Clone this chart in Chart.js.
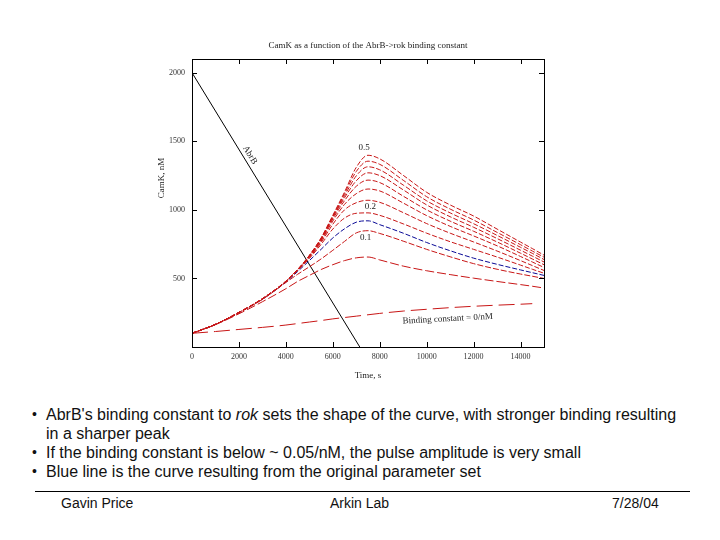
<!DOCTYPE html>
<html>
<head>
<meta charset="utf-8">
<script src="https://cdn.jsdelivr.net/npm/chart.js@4.4.1/dist/chart.umd.min.js"></script>
<style>
  html, body { margin: 0; padding: 0; background: #fff; }
  body { width: 720px; height: 540px; position: relative; overflow: hidden; font-family: "Liberation Sans", Arial, sans-serif; color: #111; }
  #chartBox { position: absolute; left: 0; top: 0; width: 720px; height: 400px; }
  .ln { position: absolute; left: 46px; font-size: 16px; line-height: 19px; white-space: nowrap; }
  .dot { position: absolute; left: -14px; font-size: 14px; }
  .rule { position: absolute; left: 35px; width: 655px; top: 491px; border-top: 1px solid #000; }
  .foot { position: absolute; top: 494px; font-size: 14px; line-height: 18px; white-space: nowrap; }
</style>
</head>
<body>
<div id="chartBox"><canvas id="camkChart" width="720" height="400"></canvas></div>

<div class="ln" style="top:405px"><span class="dot">•</span>AbrB's binding constant to <i>rok</i> sets the shape of the curve, with stronger binding resulting</div>
<div class="ln" style="top:424px">in a sharper peak</div>
<div class="ln" style="top:443px"><span class="dot">•</span>If the binding constant is below ~ 0.05/nM, the pulse amplitude is very small</div>
<div class="ln" style="top:462px"><span class="dot">•</span>Blue line is the curve resulting from the original parameter set</div>
<div class="rule"></div>
<div class="foot" style="left:61px">Gavin Price</div>
<div class="foot" style="left:330px">Arkin Lab</div>
<div class="foot" style="left:612px">7/28/04</div>

<script>
// time points (s) shared by all CamK curves
const times = [0, 1000, 2000, 3000, 4000, 4500, 5000, 5500, 6000, 6500, 7000, 7500, 8000, 9000, 10000, 11000, 12000, 13000, 14000, 14500, 15000];

// CamK (nM), one array per AbrB->rok binding constant, strongest first
const camk05 = [100, 165, 252, 352, 480, 565, 668, 795, 960, 1130, 1310, 1398, 1372, 1252, 1128, 1036, 955, 860, 765, 718, 670];
const camkB = [100, 165, 252, 352, 480, 565, 667, 793, 955, 1118, 1280, 1355, 1332, 1216, 1096, 1006, 926, 836, 746, 700, 655];
const camkC = [100, 165, 252, 352, 479, 564, 665, 790, 950, 1103, 1248, 1314, 1292, 1181, 1066, 978, 899, 814, 727, 683, 638];
const camkD = [100, 165, 252, 352, 479, 563, 663, 786, 943, 1088, 1212, 1270, 1250, 1146, 1036, 950, 873, 791, 706, 663, 620];
const camkE = [100, 165, 252, 351, 478, 562, 660, 780, 933, 1067, 1172, 1217, 1199, 1100, 1000, 918, 844, 766, 684, 642, 600];
const camkF = [100, 165, 252, 351, 478, 561, 657, 772, 918, 1040, 1118, 1152, 1138, 1050, 958, 880, 810, 738, 660, 620, 580];
const camkG = [100, 165, 252, 350, 477, 559, 652, 762, 895, 1000, 1052, 1070, 1055, 980, 900, 830, 766, 700, 630, 594, 558];
const camk02 = [100, 165, 252, 350, 476, 556, 645, 748, 860, 940, 975, 978, 960, 898, 830, 768, 712, 656, 597, 567, 538];
const camkBlue = [100, 165, 251, 349, 474, 550, 630, 712, 795, 862, 910, 920, 892, 830, 762, 702, 648, 603, 562, 542, 522];
const camk01 = [100, 164, 250, 347, 470, 530, 585, 642, 705, 770, 832, 848, 828, 772, 712, 658, 608, 567, 532, 516, 500];
const camkLow = [100, 163, 242, 330, 425, 478, 522, 565, 600, 630, 650, 656, 635, 590, 556, 528, 502, 478, 455, 443, 430];
const camk0 = [100, 113, 128, 143, 160, 171, 182, 193, 205, 215, 225, 235, 245, 262, 275, 287, 297, 305, 312, 316, null];

// AbrB, straight line
const abrbTimes = [0, 7150];
const abrbVals = [2000, 0];

const xTickVals = [0, 2000, 4000, 6000, 8000, 10000, 12000, 14000];
const xTickLabels = ['0', '2000', '4000', '6000', '8000', '10000', '12000', '14000'];
const yTickVals = [500, 1000, 1500, 2000];
const yTickLabels = ['500', '1000', '1500', '2000'];

const red = 'rgb(200,22,22)';
const serif = '"Liberation Serif", "DejaVu Serif", serif';

function pts(xs, ys) {
  return xs.map((t, i) => ({ x: t, y: ys[i] }));
}

function curve(vals, color, dash) {
  return {
    data: pts(times, vals),
    borderColor: color,
    borderWidth: 1,
    borderDash: dash,
    pointRadius: 0,
    fill: false,
    tension: 0.4,
    cubicInterpolationMode: 'monotone'
  };
}

const datasets = [
  curve(camk05, red, [5, 2]),
  curve(camkB, red, [5, 2]),
  curve(camkC, red, [5, 2]),
  curve(camkD, red, [5, 2]),
  curve(camkE, red, [5, 2]),
  curve(camkF, red, [5, 2]),
  curve(camkG, red, [5, 2]),
  curve(camk02, red, [5, 2]),
  curve(camkBlue, 'rgb(10,10,150)', [5, 2]),
  curve(camk01, red, [6, 2]),
  curve(camkLow, red, [9, 3]),
  curve(camk0, red, [16, 6]),
  {
    data: pts(abrbTimes, abrbVals),
    borderColor: '#000',
    borderWidth: 1,
    pointRadius: 0,
    fill: false
  }
];

// text placed on the plot, in data units
const notes = [
  { text: '0.5', x: 7330, y: 1455 },
  { text: '0.2', x: 7600, y: 1020 },
  { text: '0.1', x: 7400, y: 795 },
  { text: 'Binding constant = 0/nM', x: 10900, y: 205, rot: -3 }
];

// gnuplot style box: full border, inward ticks, labels on the plot
const framePlugin = {
  id: 'frame',
  afterDraw(chart) {
    const { ctx, chartArea: a, scales: { x, y } } = chart;
    ctx.save();
    ctx.strokeStyle = '#000';
    ctx.lineWidth = 1;
    ctx.strokeRect(a.left + 0.5, a.top + 0.5, a.right - a.left, a.bottom - a.top);
    ctx.beginPath();
    x.ticks.forEach(t => {
      const px = Math.round(x.getPixelForValue(t.value)) + 0.5;
      ctx.moveTo(px, a.bottom); ctx.lineTo(px, a.bottom - 5);
      ctx.moveTo(px, a.top); ctx.lineTo(px, a.top + 5);
    });
    y.ticks.forEach(t => {
      const py = Math.round(y.getPixelForValue(t.value)) + 0.5;
      ctx.moveTo(a.left, py); ctx.lineTo(a.left + 5, py);
      ctx.moveTo(a.right, py); ctx.lineTo(a.right - 5, py);
    });
    ctx.stroke();

    ctx.fillStyle = '#222';
    ctx.font = '9px ' + serif;
    ctx.textAlign = 'center';
    ctx.textBaseline = 'middle';
    notes.forEach(n => {
      ctx.save();
      ctx.translate(x.getPixelForValue(n.x), y.getPixelForValue(n.y));
      if (n.rot) ctx.rotate(n.rot * Math.PI / 180);
      ctx.fillText(n.text, 0, 0);
      ctx.restore();
    });

    // AbrB label follows the line
    const x0 = x.getPixelForValue(abrbTimes[0]), y0 = y.getPixelForValue(abrbVals[0]);
    const x1 = x.getPixelForValue(abrbTimes[1]), y1 = y.getPixelForValue(abrbVals[1]);
    ctx.save();
    ctx.translate(x.getPixelForValue(2470), y.getPixelForValue(1400));
    ctx.rotate(Math.atan2(y1 - y0, x1 - x0));
    ctx.fillText('AbrB', 0, 0);
    ctx.restore();

    // y axis title
    ctx.save();
    ctx.translate(162, 178);
    ctx.rotate(-Math.PI / 2);
    ctx.fillText('CamK, nM', 0, 0);
    ctx.restore();
    ctx.restore();
  }
};

new Chart(document.getElementById('camkChart'), {
  type: 'line',
  data: { datasets: datasets },
  options: {
    responsive: false,
    animation: false,
    events: [],
    layout: { padding: { left: 152, right: 176, top: 0, bottom: 13 } },
    plugins: {
      legend: { display: false },
      tooltip: { enabled: false },
      title: {
        display: true,
        fullSize: false,
        text: 'CamK as a function of the AbrB->rok binding constant',
        color: '#222',
        font: { family: serif, size: 9, weight: 'normal' },
        padding: { top: 40, bottom: 8.2 }
      }
    },
    scales: {
      x: {
        type: 'linear',
        min: 0,
        max: 15000,
        afterBuildTicks: s => { s.ticks = xTickVals.map(v => ({ value: v })); },
        afterFit: s => { s.height = 40; },
        grid: { drawOnChartArea: false, drawTicks: false },
        border: { display: false },
        ticks: {
          autoSkip: false,
          maxRotation: 0,
          padding: 5,
          color: '#333',
          font: { family: serif, size: 8 },
          callback: (v, i) => xTickLabels[i]
        },
        title: {
          display: true,
          text: 'Time, s',
          color: '#222',
          font: { family: serif, size: 9 },
          padding: { top: 0, bottom: 5.6 }
        }
      },
      y: {
        type: 'linear',
        min: 0,
        max: 2100,
        afterBuildTicks: s => { s.ticks = yTickVals.map(v => ({ value: v })); },
        afterFit: s => { s.width = 40; },
        grid: { drawOnChartArea: false, drawTicks: false },
        border: { display: false },
        ticks: {
          autoSkip: false,
          padding: 7,
          color: '#333',
          font: { family: serif, size: 8 },
          callback: (v, i) => yTickLabels[i]
        }
      }
    }
  },
  plugins: [framePlugin]
});
</script>
</body>
</html>
